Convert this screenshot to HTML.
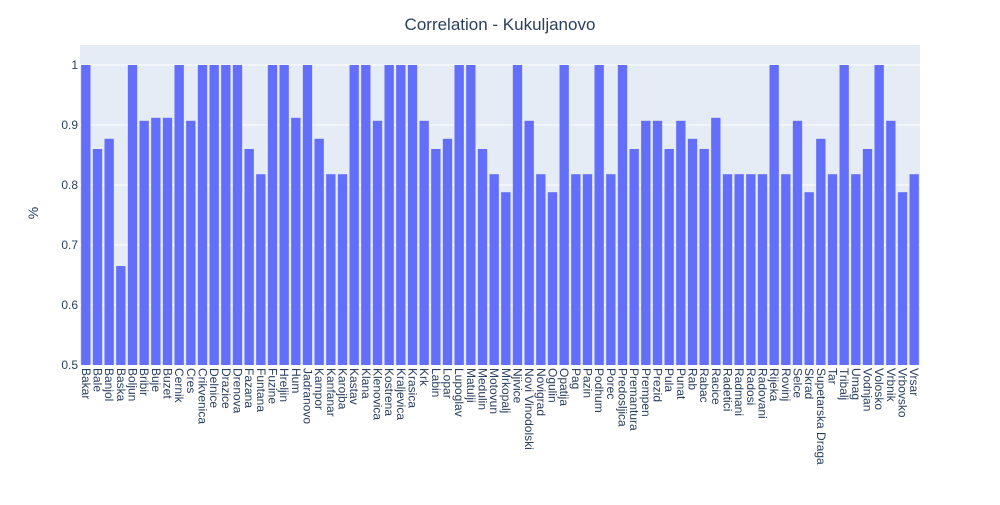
<!DOCTYPE html>
<html><head><meta charset="utf-8"><style>
body{margin:0;background:#fff;font-family:"Liberation Sans",Arial,sans-serif}
</style></head><body>
<svg id="c" width="1000" height="500" xmlns="http://www.w3.org/2000/svg"></svg>
<script>
const categories=["Bakar","Bale","Banjol","Baska","Boljun","Bribir","Buje","Buzet","Cernik","Cres","Crikvenica","Delnice","Drazice","Drenova","Fazana","Funtana","Fuzine","Hreljin","Hum","Jadranovo","Kampor","Kanfanar","Karojba","Kastav","Klana","Klenovica","Kostrena","Kraljevica","Krasica","Krk","Labin","Lopar","Lupoglav","Matulji","Medulin","Motovun","Mrkopalj","Njivice","Novi Vinodolski","Novigrad","Ogulin","Opatija","Pag","Pazin","Podhum","Porec","Predosljica","Premantura","Prempen","Prezid","Pula","Punat","Rab","Rabac","Racice","Radetici","Radmani","Radosi","Radovani","Rijeka","Rovinj","Selce","Skrad","Supetarska Draga","Tar","Tribalj","Umag","Vodnjan","Volosko","Vrbnik","Vrbovsko","Vrsar"];
const values=[1,0.86,0.877,0.665,1,0.907,0.912,0.912,1,0.907,1,1,1,1,0.86,0.818,1,1,0.912,1,0.877,0.818,0.818,1,1,0.907,1,1,1,0.907,0.86,0.877,1,1,0.86,0.818,0.788,1,0.907,0.818,0.788,1,0.818,0.818,1,0.818,1,0.86,0.907,0.907,0.86,0.907,0.877,0.86,0.912,0.818,0.818,0.818,0.818,1,0.818,0.907,0.788,0.877,0.818,1,0.818,0.86,1,0.907,0.788,0.818];
const yTicks=[0.5,0.6,0.7,0.8,0.9,1];
const yTickLabels=["0.5","0.6","0.7","0.8","0.9","1"];
const svg=document.getElementById('c');const NS="http://www.w3.org/2000/svg";
const L=80,R=920,T=65,B=365,yMin=0.5,yMax=1;
const bw=(R-L)/categories.length;
const y=v=>B-(v-yMin)/(yMax-yMin)*(B-T);
const x=i=>L+i*bw;
function mk(t,a,txt){const e=document.createElementNS(NS,t);for(const k in a)e.setAttribute(k,a[k]);if(txt!==undefined)e.textContent=txt;svg.appendChild(e);return e;}
const bg=mk('rect',{x:L,y:T-20,width:R-L,height:B-T+20,fill:'#e5ecf6'});


yTicks.forEach((t,i)=>{
 const g=mk('line',{x1:L,x2:R,y1:y(t),y2:y(t),stroke:'#fff','stroke-width':1});
 
 
 const l=mk('text',{x:L-2,y:y(t)+4,'text-anchor':'end','font-size':12,fill:'#2a3f5f'},yTickLabels[i]);
 
 
});
categories.forEach((c,i)=>{
 const r=mk('rect',{x:x(i)+bw*0.1,y:y(values[i]),width:bw*0.8,height:B-y(values[i]),fill:'#636efa'});
 
 
 const cx=x(i)+bw/2;
 const t=mk('text',{x:cx-4,y:B+3,transform:`rotate(90 ${cx-4} ${B+3})`,'font-size':12,fill:'#2a3f5f'},c);
 
 
});
const ti=mk('text',{x:500,y:30,'text-anchor':'middle','font-size':17,fill:'#2a3f5f'},'Correlation - Kukuljanovo');


const yt=mk('text',{x:38,y:213,'text-anchor':'middle','font-size':14,fill:'#2a3f5f',transform:'rotate(-90 38 213)'},'%');


</script>
</body></html>
